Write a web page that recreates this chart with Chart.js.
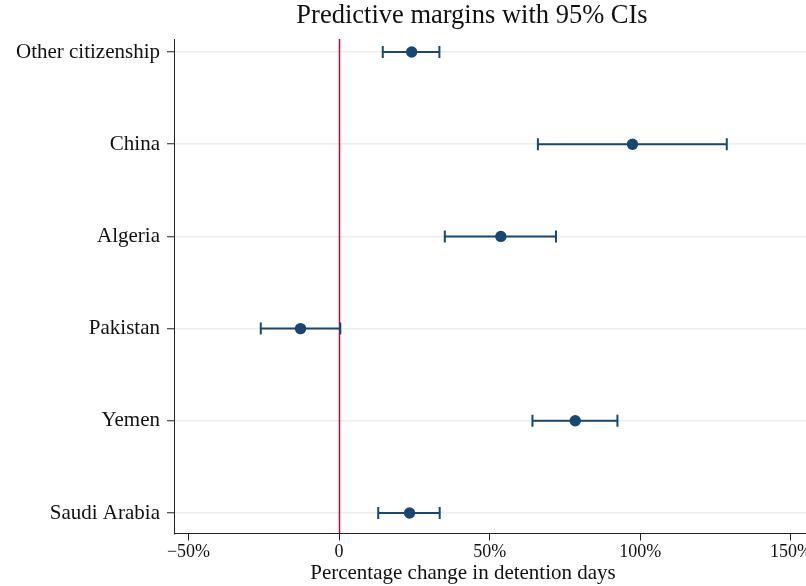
<!DOCTYPE html>
<html>
<head>
<meta charset="utf-8">
<script src="https://cdn.jsdelivr.net/npm/chart.js@4"></script>
<style>
    html, body { margin: 0; padding: 0; background: #fff; }
    #wrap { width: 806px; height: 586px; }
</style>
</head>
<body>
<div id="wrap"><canvas id="marginsChart" width="806" height="586"></canvas></div>
<script>
// categories top to bottom
const categories = ['Other citizenship', 'China', 'Algeria', 'Pakistan', 'Yemen', 'Saudi Arabia'];
// predictive margins (% change) and 95% CI bounds
const estimates = [24.1, 97.4, 53.7, -12.8, 78.4, 23.4];
const ciLower = [14.5, 66.0, 35.1, -26.0, 64.2, 13.0];
const ciUpper = [33.3, 128.7, 72.0, 0.4, 92.4, 33.4];
const xTicks = [-50, 0, 50, 100, 150];
const xRange = [-54.8, 155];
const refValue = 0;

const SERIF = '"Liberation Serif", "DejaVu Serif", serif';
const NAVY = '#1a476f';
const noPadding = () => ({ left: 0, top: 0, right: 0, bottom: 0 });

const points = estimates.map((v, i) => ({ x: v, y: i }));

// error bars and red reference line, placed through the scales
const errorBarPlugin = {
    id: 'errorBars',
    beforeDatasetsDraw(chart) {
        const { ctx, chartArea, scales: { x, y } } = chart;
        ctx.save();
        const rx = Math.round(x.getPixelForValue(refValue)) + 0.5;
        ctx.strokeStyle = '#c10534';
        ctx.lineWidth = 1.5;
        ctx.beginPath();
        ctx.moveTo(rx, chartArea.top);
        ctx.lineTo(rx, chartArea.bottom);
        ctx.stroke();

        ctx.strokeStyle = NAVY;
        ctx.lineWidth = 2;
        categories.forEach((c, i) => {
            const py = y.getPixelForValue(i);
            const x1 = x.getPixelForValue(ciLower[i]);
            const x2 = x.getPixelForValue(ciUpper[i]);
            ctx.beginPath();
            ctx.moveTo(x1, py);
            ctx.lineTo(x2, py);
            ctx.moveTo(x1, py - 6);
            ctx.lineTo(x1, py + 6);
            ctx.moveTo(x2, py - 6);
            ctx.lineTo(x2, py + 6);
            ctx.stroke();
        });
        ctx.restore();
    },
    afterDraw(chart) {
        const { ctx } = chart;
        ctx.save();
        ctx.fillStyle = '#111';
        ctx.textAlign = 'center';
        ctx.textBaseline = 'middle';
        ctx.font = '26.5px ' + SERIF;
        ctx.fillText('Predictive margins with 95% CIs', 472, 16);
        ctx.font = '21px ' + SERIF;
        ctx.fillText('Percentage change in detention days', 463, 573);
        ctx.restore();
    }
};

const chart = new Chart(document.getElementById('marginsChart'), {
    type: 'scatter',
    data: {
        datasets: [{
            data: points,
            backgroundColor: NAVY,
            borderColor: NAVY,
            pointRadius: 5.7,
            pointHoverRadius: 5.7,
            borderWidth: 0
        }]
    },
    options: {
        responsive: false,
        animation: false,
        devicePixelRatio: 1,
        layout: { autoPadding: false, padding: { top: 39, left: 0, right: 0, bottom: 0 } },
        plugins: {
            legend: { display: false },
            tooltip: { enabled: false },
            title: { display: false }
        },
        scales: {
            x: {
                type: 'linear',
                min: xRange[0],
                max: xRange[1],
                afterBuildTicks: (scale) => { scale.ticks = xTicks.map(v => ({ value: v })); },
                afterFit: (scale) => {
                    scale.height = 52.5;
                    scale.paddingLeft = 0;
                    scale.paddingRight = 0;
                    scale.getPadding = noPadding;
                },
                ticks: {
                    color: '#111',
                    font: { family: SERIF, size: 18 },
                    padding: 1,
                    maxRotation: 0,
                    autoSkip: false,
                    callback: (v) => v === 0 ? '0' : (v < 0 ? '\u2212' + Math.abs(v) : v) + '%'
                },
                grid: {
                    drawOnChartArea: false,
                    tickLength: 7,
                    tickColor: '#222',
                    tickWidth: 1
                },
                border: { color: '#222', width: 1 }
            },
            y: {
                type: 'linear',
                reverse: true,
                min: -0.141,
                max: 5.222,
                afterBuildTicks: (scale) => { scale.ticks = categories.map((c, i) => ({ value: i })); },
                afterFit: (scale) => {
                    scale.width = 174;
                    scale.paddingTop = 0;
                    scale.paddingBottom = 0;
                    scale.getPadding = noPadding;
                },
                ticks: {
                    color: '#111',
                    font: { family: SERIF, size: 21 },
                    padding: 7,
                    autoSkip: false,
                    callback: (v) => categories[v]
                },
                grid: {
                    color: '#e9eff2',
                    lineWidth: 1.5,
                    tickLength: 7,
                    tickColor: '#222',
                    tickWidth: 1
                },
                border: { color: '#222', width: 1 }
            }
        }
    },
    plugins: [errorBarPlugin]
});
</script>
</body>
</html>
